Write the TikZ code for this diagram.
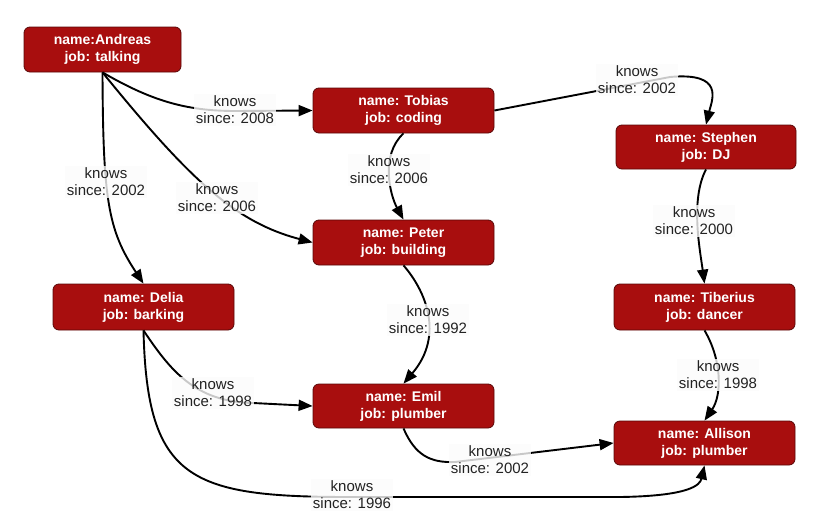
\documentclass[tikz,border=0pt]{standalone}
\usepackage{fontspec}
\setmainfont{Liberation Sans}
\usetikzlibrary{arrows.meta}
\definecolor{boxred}{HTML}{A80E0E}
\definecolor{boxedge}{HTML}{5A0808}
\definecolor{labeltext}{HTML}{222222}
\definecolor{labelfill}{HTML}{FBFBFB}
\begin{document}
\begin{tikzpicture}[x=1pt,y=-1pt,
  person/.style={draw=boxedge, fill=boxred, line width=0.8pt, rounded corners=6pt,
    minimum width=181pt, minimum height=45pt, inner sep=0pt, align=center,
    text=white, font=\fontsize{14}{17}\selectfont\bfseries},
  rel/.style={line width=1.9pt, -{Triangle[length=14pt,width=11pt]}},
  knows/.style={fill=labelfill, fill opacity=0.8, text opacity=1, text=labeltext,
    align=center, inner sep=1.5pt, font=\fontsize{15}{17}\selectfont}
]
\useasboundingbox (0,0) rectangle (821,522);
% nodes
\node[person, minimum width=157pt] (andreas) at (102.5,49.5) {name:Andreas\\job: talking};
\node[person] (tobias) at (403.5,110.5) {name: Tobias\\job: coding};
\node[person] (peter) at (403.5,242.5) {name: Peter\\job: building};
\node[person, minimum width=180pt, minimum height=44pt] (stephen) at (706,147) {name: Stephen\\job: DJ};
\node[person, minimum height=46pt] (delia) at (143.5,307) {name: Delia\\job: barking};
\node[person, minimum height=46pt] (tiberius) at (704.5,307) {name: Tiberius\\job: dancer};
\node[person, minimum height=44pt] (emil) at (403.5,406) {name: Emil\\job: plumber};
\node[person, minimum height=44pt] (allison) at (704.5,443) {name: Allison\\job: plumber};
% edges
\draw[rel] (andreas.south) .. controls (150,100) and (185,111) .. (235,111) -- (tobias.west);
\draw[rel] (andreas.south) .. controls (103,200) and (108,230) .. (delia.north);
\draw[rel] (andreas.south) .. controls (190,180) and (235,222) .. (peter.west);
\draw[rel] (tobias.south) .. controls (380,155) and (390,195) .. (peter.north);
\draw[rel] (tobias.east) -- (670,77) .. controls (725,72) and (712,100) .. (stephen.north);
\draw[rel] (stephen.south) .. controls (690,200) and (700,250) .. (tiberius.north);
\draw[rel] (peter.south) .. controls (425,290) and (445,335) .. (emil.north);
\draw[rel] (delia.south) .. controls (170,370) and (195,402) .. (253,403) -- (emil.west);
\draw[rel] (delia.south) .. controls (147,480) and (190,497) .. (350,497) -- (620,497)
  .. controls (690,496) and (700,485) .. (allison.south);
\draw[rel] (emil.south) .. controls (415,455) and (430,463) .. (455,462) -- (allison.west);
\draw[rel] (tiberius.south) .. controls (722,360) and (722,395) .. (allison.north);
% labels
\node[knows] (l1) at (235,110) {knows\\since: 2008};
\node[knows] (l2) at (106,182) {knows\\since: 2002};
\node[knows] (l3) at (217,198) {knows\\since: 2006};
\node[knows] (l4) at (389,170) {knows\\since: 2006};
\node[knows] (l5) at (637,80) {knows\\since: 2002};
\node[knows] (l6) at (694,221) {knows\\since: 2000};
\node[knows] (l7) at (428,320) {knows\\since: 1992};
\node[knows] (l8) at (213,393) {knows\\since: 1998};
\node[knows] (l9) at (352,495) {knows\\since: 1996};
\node[knows] (l10) at (490,460) {knows\\since: 2002};
\node[knows] (l11) at (718,375) {knows\\since: 1998};
\end{tikzpicture}
\end{document}
